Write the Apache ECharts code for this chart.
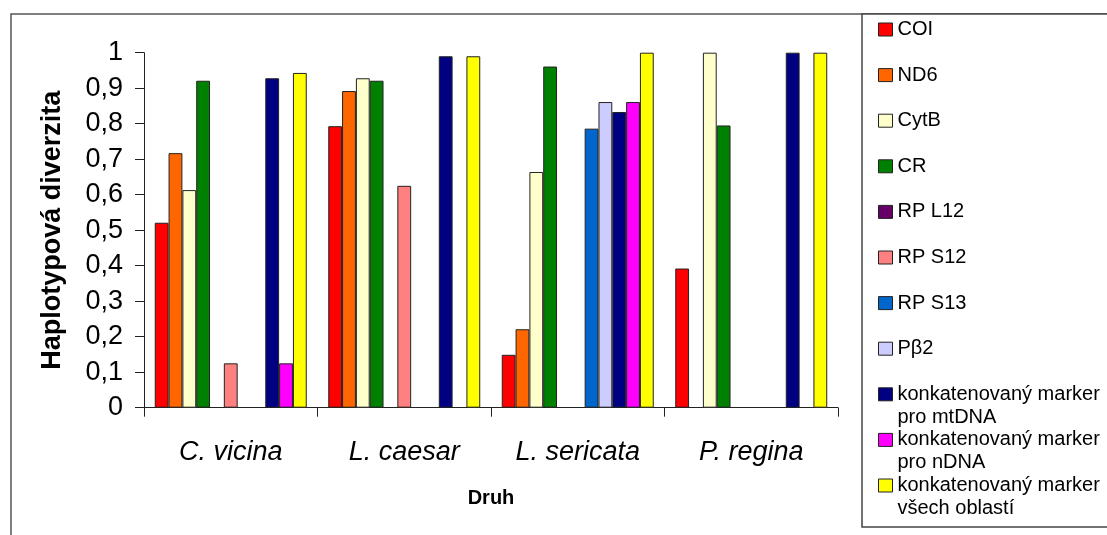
<!DOCTYPE html>
<html>
<head>
<meta charset="utf-8">
<script src="https://cdn.jsdelivr.net/npm/echarts@6/dist/echarts.min.js"></script>
<style>
html,body{margin:0;padding:0;background:#fff;}
#chart{width:1107px;height:535px;}
</style>
</head>
<body>
<div id="chart"></div>
<script>
const categories = ['C. vicina', 'L. caesar', 'L. sericata', 'P. regina'];
const seriesNames = ['COI', 'ND6', 'CytB', 'CR', 'RP L12', 'RP S12', 'RP S13', 'Pβ2',
  'konkatenovaný marker\npro mtDNA', 'konkatenovaný marker\npro nDNA', 'konkatenovaný marker\nvšech oblastí'];
const yTicks = [0, 0.1, 0.2, 0.3, 0.4, 0.5, 0.6, 0.7, 0.8, 0.9, 1];

const COI   = [0.521, 0.793, 0.149, 0.392];
const ND6   = [0.717, 0.892, 0.221, null];
const CytB  = [0.613, 0.928, 0.664, 1.0];
const CR    = [0.921, 0.921, 0.961, 0.795];
const RPL12 = [null, null, null, null];
const RPS12 = [0.125, 0.625, null, null];
const RPS13 = [null, null, 0.786, null];
const Pb2   = [null, null, 0.861, null];
const mtDNA = [0.928, 0.99, 0.833, 1.0];
const nDNA  = [0.125, null, 0.861, null];
const allRegions = [0.943, 0.99, 1.0, 1.0];

const seriesValues = [COI, ND6, CytB, CR, RPL12, RPS12, RPS13, Pb2, mtDNA, nDNA, allRegions];
const colors = ['#FF0000', '#FF6600', '#FFFFCC', '#008000', '#660066', '#FF8080', '#0066CC', '#CCCCFF', '#000080', '#FF00FF', '#FFFF00'];

const FONT = '"Liberation Sans", Arial, sans-serif';
const chart = echarts.init(document.getElementById('chart'), null, {renderer: 'canvas'});

const legendStep = 45.6;
const legendFirst = 29.5;
const legendLH = 23;
const legends = seriesNames.map(function (name, i) {
  const multi = name.indexOf('\n') >= 0;
  const cy = legendFirst + i * legendStep;
  return {
    data: [name],
    orient: 'vertical',
    left: 878,
    top: multi ? cy - legendLH * 1.5 : cy - legendLH / 2,
    padding: 0,
    z: 200,
    itemWidth: 14,
    itemHeight: 13,
    icon: 'rect',
    selectedMode: false,
    formatter: function (n) { return n.indexOf('\n') >= 0 ? '\n' + n : n; },
    itemStyle: {borderColor: '#222', borderWidth: 1},
    textStyle: {fontFamily: FONT, fontSize: 20, color: '#000', lineHeight: legendLH}
  };
});

const option = {
  backgroundColor: '#fff',
  animation: false,
  textStyle: {fontFamily: FONT},
  graphic: [
    {type: 'rect', z: -10, shape: {x: 11, y: 14, width: 1200, height: 600},
     style: {fill: '#fff', stroke: '#555', lineWidth: 1.5}},
    {type: 'rect', z: 100, shape: {x: 862, y: 14, width: 300, height: 513},
     style: {fill: '#fff', stroke: '#444', lineWidth: 1.5}}
  ],
  legend: legends,
  grid: {left: 144, right: 269, top: 52.7, bottom: 127.3, containLabel: false},
  xAxis: {
    type: 'category',
    data: categories,
    name: 'Druh',
    nameLocation: 'middle',
    nameGap: 81,
    nameTextStyle: {fontFamily: FONT, fontSize: 20, fontWeight: 'bold', color: '#000'},
    axisLine: {lineStyle: {color: '#222', width: 1}},
    axisTick: {show: true, length: 9, lineStyle: {color: '#222'}},
    axisLabel: {fontFamily: FONT, fontSize: 27, fontStyle: 'italic', color: '#000', margin: 31}
  },
  yAxis: {
    type: 'value',
    min: 0, max: 1, interval: 0.1,
    name: 'Haplotypová diverzita',
    nameLocation: 'middle',
    nameGap: 78,
    nameTextStyle: {fontFamily: FONT, fontSize: 27, fontWeight: 'bold', color: '#000'},
    axisLine: {show: true, lineStyle: {color: '#222', width: 1}},
    axisTick: {show: true, length: 9, lineStyle: {color: '#222'}},
    splitLine: {show: false},
    axisLabel: {
      fontFamily: FONT, fontSize: 27, color: '#000', margin: 21,
      formatter: function (v) {
        const t = yTicks.find(function (x) { return Math.abs(x - v) < 1e-6; });
        return t === 0 || t === 1 ? String(t) : String(Math.round(v * 10) / 10).replace('.', ',');
      }
    }
  },
  series: seriesNames.map(function (name, i) {
    return {
      type: 'bar',
      name: name,
      data: seriesValues[i],
      barGap: '0%',
      barCategoryGap: '12.4%',
      itemStyle: {color: colors[i], borderColor: '#222', borderWidth: 1}
    };
  })
};
chart.setOption(option);
</script>
</body>
</html>
